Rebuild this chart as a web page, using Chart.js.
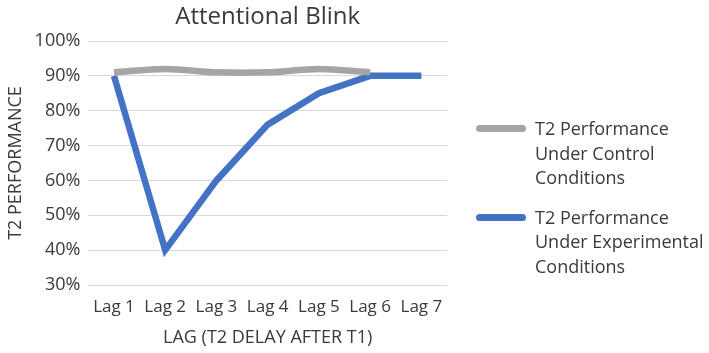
<!DOCTYPE html>
<html>
<head>
<meta charset="utf-8">
<script src="https://cdn.jsdelivr.net/npm/chart.js@4"></script>
<style>
  html, body { margin: 0; padding: 0; background: #fff; }
  #wrap { position: relative; width: 709px; height: 353px; }
  #legend { position: absolute; left: 476px; top: 116px; font-family: "Open Sans", "Liberation Sans", sans-serif; font-size: 18px; color: #3a3a3a; }
  .item { display: flex; align-items: flex-start; margin-bottom: 15px; }
  .swatch { width: 50px; height: 7px; border-radius: 3.5px; margin-top: 9px; margin-right: 9px; flex: none; }
  .txt { line-height: 24.5px; }
</style>
</head>
<body>
<div id="wrap">
  <canvas id="blink-chart" width="709" height="353"></canvas>
  <div id="legend"></div>
</div>
<script>
const lags = ['Lag 1', 'Lag 2', 'Lag 3', 'Lag 4', 'Lag 5', 'Lag 6', 'Lag 7'];
const controlValues = [91, 92, 91, 91, 92, 91, null];
const experimentalValues = [90, 40, 60, 76, 85, 90, 90];
const controlLabel = ['T2 Performance', 'Under Control', 'Conditions'];
const experimentalLabel = ['T2 Performance', 'Under Experimental', 'Conditions'];

const fontFamily = '"Open Sans", "Liberation Sans", sans-serif';
const textColor = '#3a3a3a';

// title centred over the plot area, like the original
const titlePlugin = {
    id: 'plotTitle',
    afterDraw(chart) {
        const ctx = chart.ctx;
        const area = chart.chartArea;
        ctx.save();
        ctx.font = '24px ' + fontFamily;
        ctx.fillStyle = textColor;
        ctx.textAlign = 'center';
        ctx.textBaseline = 'middle';
        ctx.fillText('Attentional Blink', (area.left + area.right) / 2, 17);
        ctx.restore();
    }
};

const ctx = document.getElementById('blink-chart').getContext('2d');
const blinkChart = new Chart(ctx, {
    type: 'line',
    data: {
        labels: lags,
        datasets: [{
            label: controlLabel.join(' '),
            data: controlValues,
            borderColor: '#a5a5a5',
            backgroundColor: '#a5a5a5',
            borderWidth: 6.5,
            pointRadius: 0,
            tension: 0.3
        }, {
            label: experimentalLabel.join(' '),
            data: experimentalValues,
            borderColor: '#4472c4',
            backgroundColor: '#4472c4',
            borderWidth: 6.5,
            pointRadius: 0,
            tension: 0
        }]
    },
    options: {
        responsive: false,
        animation: false,
        layout: {
            padding: { top: 41, right: 262, left: 5, bottom: 4 }
        },
        plugins: {
            legend: { display: false },
            tooltip: { enabled: false }
        },
        scales: {
            x: {
                offset: true,
                grid: { display: false },
                border: { display: false },
                ticks: { color: textColor, font: { family: fontFamily, size: 17 }, padding: 4, maxRotation: 0 },
                title: {
                    display: true,
                    text: 'LAG (T2 DELAY AFTER T1)',
                    color: textColor,
                    font: { family: fontFamily, size: 18 },
                    padding: { top: 6, bottom: 0 }
                }
            },
            y: {
                min: 30,
                max: 100,
                ticks: {
                    stepSize: 10,
                    color: textColor,
                    font: { family: fontFamily, size: 18 },
                    padding: 8,
                    callback: function(value) { return value + '%'; }
                },
                grid: { color: '#d9d9d9', drawTicks: false },
                border: { display: false },
                title: {
                    display: true,
                    text: 'T2 PERFORMANCE',
                    color: textColor,
                    font: { family: fontFamily, size: 18 },
                    padding: { top: 0, bottom: 0 }
                }
            }
        }
    },
    plugins: [titlePlugin]
});

// legend built from the datasets
const legendEl = document.getElementById('legend');
[controlLabel, experimentalLabel].forEach(function(lines, i) {
    const item = document.createElement('div');
    item.className = 'item';
    const sw = document.createElement('div');
    sw.className = 'swatch';
    sw.style.background = blinkChart.data.datasets[i].borderColor;
    const txt = document.createElement('div');
    txt.className = 'txt';
    txt.innerHTML = lines.join('<br>');
    item.appendChild(sw);
    item.appendChild(txt);
    legendEl.appendChild(item);
});
</script>
</body>
</html>
